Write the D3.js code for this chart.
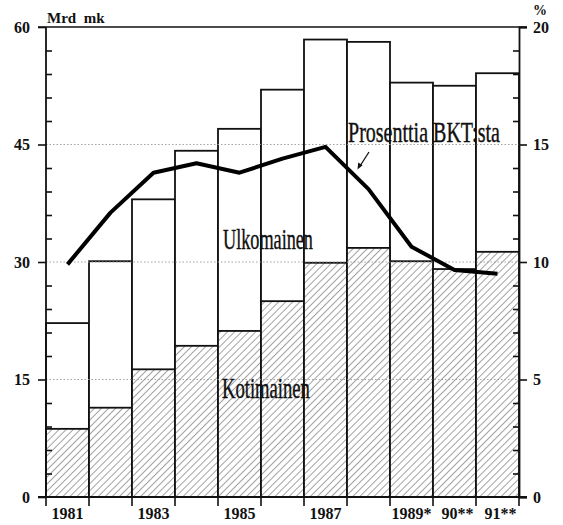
<!DOCTYPE html>
<html><head><meta charset="utf-8">
<script src="https://cdn.jsdelivr.net/npm/d3@7"></script>
<style>
html,body{margin:0;padding:0;background:#fff;}
svg{display:block;}
</style></head>
<body>
<script>
const years = ["1981","1982","1983","1984","1985","1986","1987","1988","1989","1990","1991"];
const yearLabels = ["1981","","1983","","1985","","1987","","1989*","90**","91**"];
const kotimainen = [8.7, 11.4, 16.3, 19.3, 21.2, 25.0, 29.9, 31.8, 30.1, 29.1, 31.3];
const total = [22.2, 30.1, 38.0, 44.2, 47.0, 52.0, 58.4, 58.1, 52.9, 52.5, 54.1];
const prosentti = [9.9, 12.1, 13.8, 14.2, 13.8, 14.4, 14.9, 13.1, 10.65, 9.66, 9.5];
const leftTicks = [0, 15, 30, 45, 60];
const leftMinor = [3,6,9,12,18,21,24,27,33,36,39,42,48,51,54,57];
const rightTicks = [0, 5, 10, 15, 20];
const rightMinor = [1,2,3,4,6,7,8,9,11,12,13,14,16,17,18,19];
const gridValues = [15, 30, 45];

const W = 563, H = 525;
const svg = d3.select("body").append("svg").attr("width", W).attr("height", H);

const defs = svg.append("defs");
const pat = defs.append("pattern").attr("id","hatch").attr("patternUnits","userSpaceOnUse")
  .attr("width",5).attr("height",5).attr("patternTransform","rotate(45)");
pat.append("rect").attr("width",5).attr("height",5).attr("fill","#fff");
pat.append("line").attr("x1",0).attr("y1",0).attr("x2",0).attr("y2",5)
  .attr("stroke","#555").attr("stroke-width",1.1);

const x = d3.scaleBand().domain(years).range([46, 519]).padding(0);
const yL = d3.scaleLinear().domain([0, 60]).range([497, 27]);
const yR = d3.scaleLinear().domain([0, 20]).range([497, 27]);

const serif = "'Liberation Serif','DejaVu Serif',serif";

// total bars (white)
svg.append("g").selectAll("rect").data(years).join("rect")
  .attr("x", d => x(d)).attr("width", x.bandwidth())
  .attr("y", (d,i) => yL(total[i])).attr("height", (d,i) => yL(0) - yL(total[i]))
  .attr("fill", "#fff").attr("stroke", "#111").attr("stroke-width", 1.8);

// kotimainen bars (hatched)
svg.append("g").selectAll("rect").data(years).join("rect")
  .attr("x", d => x(d)).attr("width", x.bandwidth())
  .attr("y", (d,i) => yL(kotimainen[i])).attr("height", (d,i) => yL(0) - yL(kotimainen[i]))
  .attr("fill", "url(#hatch)").attr("stroke", "#111").attr("stroke-width", 1.8);

// dotted gridlines
svg.append("g").selectAll("line").data(gridValues).join("line")
  .attr("x1", 46).attr("x2", 519).attr("y1", d => yL(d)).attr("y2", d => yL(d))
  .attr("stroke", "#999").attr("stroke-width", 0.9).attr("stroke-dasharray", "1.5,2");

// top line
svg.append("line").attr("x1", 38).attr("x2", 527).attr("y1", yL(60)).attr("y2", yL(60))
  .attr("stroke", "#111").attr("stroke-width", 1.6);
// baseline
svg.append("line").attr("x1", 38).attr("x2", 527).attr("y1", yL(0)).attr("y2", yL(0))
  .attr("stroke", "#111").attr("stroke-width", 1.8);

// left axis
const gL = svg.append("g").attr("transform", "translate(46,0)");
gL.call(d3.axisLeft(yL).tickValues(leftTicks).tickSize(8).tickPadding(8).tickFormat(d3.format("d")));
gL.append("g").call(d3.axisLeft(yL).tickValues(leftMinor).tickSize(-6).tickFormat(""));
gL.selectAll(".domain").attr("stroke", "#111").attr("stroke-width", 1.8);
gL.selectAll(".tick line").attr("stroke", "#111").attr("stroke-width", 1.6);
gL.selectAll("text").attr("font-family", serif).attr("font-weight", "bold").attr("font-size", 16).attr("fill", "#111");
gL.select(".domain").attr("d", `M0,${yL(60)}V${yL(0)}`);
gL.selectAll("g g .domain").remove();

// right axis
const gR = svg.append("g").attr("transform", "translate(519,0)");
gR.call(d3.axisRight(yR).tickValues(rightTicks).tickSize(8).tickPadding(6).tickFormat(d3.format("d")));
gR.append("g").call(d3.axisRight(yR).tickValues(rightMinor).tickSize(-6).tickFormat(""));
gR.selectAll(".domain").attr("stroke", "#111").attr("stroke-width", 1.8);
gR.selectAll(".tick line").attr("stroke", "#111").attr("stroke-width", 1.6);
gR.selectAll("text").attr("font-family", serif).attr("font-weight", "bold").attr("font-size", 16).attr("fill", "#111");
gR.selectAll("g g .domain").remove();

// bottom ticks at bar boundaries
const bounds = years.map(d => x(d)).concat([x(years[years.length-1]) + x.bandwidth()]);
svg.append("g").selectAll("line").data(bounds).join("line")
  .attr("x1", d => d).attr("x2", d => d).attr("y1", yL(0)).attr("y2", yL(0) + 9)
  .attr("stroke", "#111").attr("stroke-width", 1.6);

// bottom labels
svg.append("g").selectAll("text").data(years).join("text")
  .attr("x", (d,i) => x(d) + x.bandwidth()/2 + (i >= 9 ? 3 : 0))
  .attr("y", 519)
  .attr("text-anchor", "middle")
  .attr("font-family", serif).attr("font-weight", "bold").attr("font-size", 16).attr("fill", "#111")
  .text((d,i) => yearLabels[i]);

// unit labels
svg.append("text").attr("x", 47).attr("y", 23).attr("font-family", serif).attr("font-weight","bold")
  .attr("font-size", 15).attr("fill","#111")
  .attr("xml:space","preserve").text("Mrd  mk");
svg.append("text").attr("x", 533).attr("y", 15).attr("font-family", serif).attr("font-weight","bold")
  .attr("font-size", 14).attr("fill","#111").text("%");

// percentage line
const line = d3.line().x((d,i) => x(years[i]) + x.bandwidth()/2).y(d => yR(d));
svg.append("path").datum(prosentti).attr("d", line)
  .attr("fill","none").attr("stroke","#000").attr("stroke-width", 4).attr("stroke-linejoin","round");

// series labels (condensed via horizontal scale)
function lab(t, x0, yb, w){
  const g = svg.append("g");
  const tx = g.append("text").attr("x", 0).attr("y", 0).attr("font-family", serif)
    .attr("font-size", 29).attr("fill","#111").attr("stroke","#111").attr("stroke-width",0.4)
    .text(t);
  const nat = tx.node().getComputedTextLength();
  g.attr("transform", `translate(${x0},${yb}) scale(${w/nat},1)`);
}
lab("Ulkomainen", 223, 249, 90);
lab("Kotimainen", 222, 398, 88);
lab("Prosenttia BKT:sta", 348, 142, 152);

// arrow
svg.append("line").attr("x1", 369).attr("y1", 152).attr("x2", 360).attr("y2", 166)
  .attr("stroke","#111").attr("stroke-width", 1.3);
svg.append("path").attr("d", "M357.5,169.5 L358.2,162.5 L362.6,165.3 Z").attr("fill","#111");
</script>
</body></html>
